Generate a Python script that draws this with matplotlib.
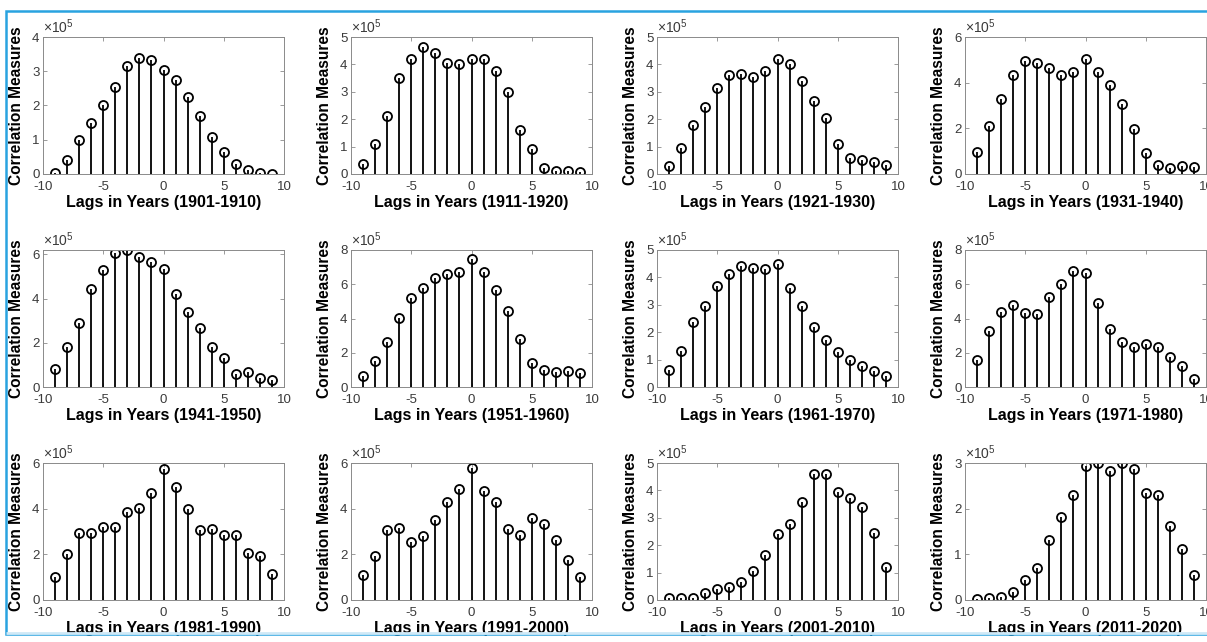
import matplotlib.pyplot as plt
from matplotlib.patches import Rectangle
import numpy as np

plt.rcParams['font.family'] = ['Liberation Sans', 'DejaVu Sans']
plt.rcParams['axes.unicode_minus'] = False
plt.rcParams['mathtext.fontset'] = 'custom'
plt.rcParams['mathtext.rm'] = 'Liberation Sans'

# lags in years, values in units of 1e5
lags = np.arange(-9, 10)

periods = ['1901-1910', '1911-1920', '1921-1930', '1931-1940',
           '1941-1950', '1951-1960', '1961-1970', '1971-1980',
           '1981-1990', '1991-2000', '2001-2010', '2011-2020']

v_1901 = [0.04, 0.41, 1.00, 1.48, 2.00, 2.54, 3.15, 3.40, 3.32, 3.03,
          2.75, 2.25, 1.69, 1.08, 0.63, 0.28, 0.11, 0.02, 0.00]
v_1911 = [0.38, 1.08, 2.12, 3.50, 4.20, 4.65, 4.42, 4.05, 4.00, 4.20,
          4.20, 3.75, 3.00, 1.62, 0.90, 0.22, 0.12, 0.10, 0.07]
v_1921 = [0.28, 0.95, 1.78, 2.43, 3.15, 3.60, 3.65, 3.55, 3.75, 4.20,
          4.00, 3.38, 2.68, 2.05, 1.10, 0.60, 0.52, 0.45, 0.33]
v_1931 = [0.98, 2.12, 3.28, 4.35, 4.93, 4.87, 4.65, 4.35, 4.45, 5.05,
          4.47, 3.88, 3.08, 1.95, 0.92, 0.40, 0.27, 0.35, 0.30]
v_1941 = [0.82, 1.82, 2.91, 4.43, 5.28, 6.06, 6.19, 5.88, 5.67, 5.34,
          4.22, 3.40, 2.69, 1.79, 1.33, 0.61, 0.66, 0.42, 0.33]
v_1951 = [0.64, 1.51, 2.65, 4.01, 5.19, 5.79, 6.37, 6.57, 6.70, 7.48,
          6.74, 5.66, 4.42, 2.83, 1.40, 1.00, 0.85, 0.91, 0.80]
v_1961 = [0.62, 1.30, 2.38, 2.97, 3.68, 4.14, 4.41, 4.36, 4.31, 4.50,
          3.61, 2.97, 2.19, 1.73, 1.28, 1.00, 0.76, 0.60, 0.41]
v_1971 = [1.55, 3.29, 4.40, 4.78, 4.34, 4.28, 5.25, 6.04, 6.80, 6.64,
          4.88, 3.41, 2.61, 2.32, 2.52, 2.34, 1.78, 1.20, 0.46]
v_1981 = [1.02, 2.00, 2.93, 2.94, 3.18, 3.18, 3.84, 4.03, 4.69, 5.75,
          4.95, 3.97, 3.06, 3.13, 2.86, 2.86, 2.06, 1.92, 1.14]
v_1991 = [1.11, 1.91, 3.07, 3.14, 2.55, 2.82, 3.51, 4.29, 4.88, 5.76,
          4.79, 4.28, 3.09, 2.84, 3.58, 3.35, 2.63, 1.76, 0.99]
v_2001 = [0.06, 0.07, 0.06, 0.24, 0.39, 0.47, 0.64, 1.06, 1.66, 2.42,
          2.79, 3.59, 4.61, 4.61, 3.94, 3.73, 3.40, 2.46, 1.21]
v_2011 = [0.03, 0.04, 0.06, 0.18, 0.43, 0.71, 1.32, 1.82, 2.31, 2.93,
          3.00, 2.83, 3.00, 2.87, 2.35, 2.31, 1.61, 1.11, 0.55]

series = [v_1901, v_1911, v_1921, v_1931, v_1941, v_1951,
          v_1961, v_1971, v_1981, v_1991, v_2001, v_2011]

ymax = [4, 5, 5, 6, 6.2, 8, 5, 8, 6, 6, 5, 3]
ystep = [1, 1, 1, 2, 2, 2, 1, 2, 2, 2, 1, 1]

W, H = 1207, 642
fig = plt.figure(figsize=(W / 100, H / 100), dpi=100)

col_left = [43, 351, 657, 965]
row_top = [37, 250, 463]
ax_w, ax_h = 241, 137

tick_col = '#3a3a3a'
edge_col = '#8a8a8a'

for k, (vals, period) in enumerate(zip(series, periods)):
    r, c = divmod(k, 4)
    ax = fig.add_axes([col_left[c] / W, 1 - (row_top[r] + ax_h) / H, ax_w / W, ax_h / H])
    ml, sl, bl = ax.stem(lags, vals, linefmt='k-', markerfmt='ko', basefmt=' ')
    sl.set_linewidth(1.3)
    ml.set_markerfacecolor('none')
    ml.set_markeredgecolor('black')
    ml.set_markersize(6.5)
    ml.set_markeredgewidth(1.3)
    ax.set_xlim(-10, 10)
    ax.set_ylim(0, ymax[k])
    ax.set_xticks([-10, -5, 0, 5, 10])
    yt = np.arange(0, ymax[k] + 0.01, ystep[k])
    ax.set_yticks(yt)
    ax.set_yticklabels([f'{t:g}' for t in yt])
    ax.tick_params(direction='in', length=3, width=0.6, top=True, right=True,
                   labelsize=9.5, colors=edge_col, labelcolor=tick_col)
    ax.tick_params(axis='x', pad=5)
    ax.tick_params(axis='y', pad=2.5)
    for s in ax.spines.values():
        s.set_color(edge_col)
        s.set_linewidth(0.7)
    ax.set_xlabel(f'Lags in Years ({period})', fontsize=11.5, fontweight='bold')
    ax.xaxis.set_label_coords(0.5, -0.15)
    ax.set_ylabel('Correlation Measures', fontsize=11.2, fontweight='bold')
    ax.yaxis.set_label_coords(-0.078, 0.5)
    ax.text(0.0, 1.01, r'$\times\mathregular{10^5}$', transform=ax.transAxes,
            ha='left', va='bottom', fontsize=10, color=tick_col)

# selection frame around the figure
fig.add_artist(Rectangle((5.5 / W, 8 / H), (W - 5) / W, (H - 19) / H,
                         transform=fig.transFigure, fill=False,
                         edgecolor='#29a3e0', linewidth=1.8))
fig.add_artist(Rectangle((5.5 / W, 9 / H), (W - 5) / W, 0, transform=fig.transFigure,
                         fill=False, edgecolor='#cfe9f7', linewidth=2))

fig.savefig('out.png', dpi=100)
